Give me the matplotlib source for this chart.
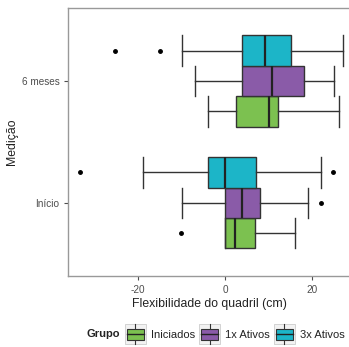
import matplotlib
matplotlib.use("Agg")
import matplotlib.pyplot as plt
from matplotlib.legend_handler import HandlerBase
from matplotlib.patches import Rectangle
from matplotlib.lines import Line2D

plt.rcParams['font.family'] = ['Liberation Sans', 'DejaVu Sans']

medicoes = ["Início", "6 meses"]
grupos = ["Iniciados", "1x Ativos", "3x Ativos"]
cores = ["#7cc150", "#8a5ba8", "#1cb5c8"]

# (whislo, q1, med, q3, whishi) per medicao, per grupo
stats_inicio = [
    [0.0, 0.0, 2.2, 6.8, 16.0],
    [-9.8, 0.0, 3.8, 8.0, 19.1],
    [-18.8, -3.9, 0.0, 7.2, 22.1],
]
stats_6meses = [
    [-3.9, 2.6, 10.0, 12.2, 26.2],
    [-6.8, 3.9, 10.8, 18.0, 25.0],
    [-9.8, 3.9, 9.1, 15.1, 27.0],
]
outliers_inicio = [[-10.1], [22.0], [-33.2, 24.8]]
outliers_6meses = [[], [], [-25.2, -14.9]]

fig = plt.figure(figsize=(3.49, 3.47), dpi=100)
ax = fig.add_axes([0.196, 0.205, 0.81, 0.772])

offsets = [-0.25, 0.0, 0.25]
all_stats = [stats_inicio, stats_6meses]
all_out = [outliers_inicio, outliers_6meses]
for i in range(2):
    for g in range(3):
        s = all_stats[i][g]
        st = dict(whislo=s[0], q1=s[1], med=s[2], q3=s[3], whishi=s[4],
                  fliers=all_out[i][g])
        ax.bxp([st], positions=[i + 1 + offsets[g]], widths=0.25, vert=False,
               patch_artist=True, showcaps=True,
               boxprops=dict(facecolor=cores[g], edgecolor="#333333", linewidth=1),
               medianprops=dict(color="#222222", linewidth=1.6),
               whiskerprops=dict(color="#333333", linewidth=1),
               capprops=dict(color="#333333", linewidth=1),
               flierprops=dict(marker="o", markersize=2.5, markerfacecolor="black",
                               markeredgecolor="black"),
               capwidths=0.25)

ax.set_xlim(-35.9, 28.9)
ax.set_ylim(0.4, 2.6)
ax.set_yticks([1, 2])
ax.set_yticklabels(medicoes)
ax.set_xticks([-20, 0, 20])
ax.set_xticklabels(["-20", "0", "20"])
ax.tick_params(axis="both", labelsize=7.2, colors="#4d4d4d", length=3, width=0.8)
for sp in ax.spines.values():
    sp.set_color("#999999")
    sp.set_linewidth(1)
ax.set_xlabel("Flexibilidade do quadril (cm)", fontsize=8.8, color="#222222", labelpad=2)
ax.set_ylabel("Medição", fontsize=8.8, color="#222222")
ax.yaxis.set_label_coords(-0.179, 0.5)


class BoxKey(HandlerBase):
    def __init__(self, color):
        super().__init__()
        self.color = color

    def create_artists(self, legend, orig_handle, xdescent, ydescent, width, height,
                       fontsize, trans):
        x0 = -xdescent
        y0 = -ydescent
        bg = Rectangle((x0, y0 - 1), width, height + 2,
                       facecolor="#f2f2f2", edgecolor="#cccccc", lw=0.6, transform=trans)
        cx = x0 + width / 2
        ylo = y0 + height * 0.2
        yhi = y0 + height * 0.8
        box = Rectangle((x0 + 1.5, ylo), width - 3, yhi - ylo,
                        facecolor=self.color, edgecolor="#333333", lw=0.8, transform=trans)
        med = Line2D([x0 + 1.5, x0 + width - 1.5], [(ylo + yhi) / 2] * 2,
                     color="#222222", lw=1, transform=trans)
        w1 = Line2D([cx, cx], [y0 - 1, ylo], color="#333333", lw=0.8, transform=trans)
        w2 = Line2D([cx, cx], [yhi, y0 + height + 1], color="#333333", lw=0.8,
                    transform=trans)
        return [bg, w1, w2, box, med]


handles = [Rectangle((0, 0), 1, 1, label=g) for g in grupos]
hmap = {h: BoxKey(c) for h, c in zip(handles, cores)}
leg = fig.legend(handles=handles, labels=grupos, handler_map=hmap, loc="center left",
                 bbox_to_anchor=(0.358, 0.037), ncol=3, frameon=False, fontsize=8,
                 handlelength=1.9, handleheight=2.1, handletextpad=0.45,
                 columnspacing=0.35, borderpad=0, borderaxespad=0)
for t in leg.get_texts():
    t.set_color("#222222")
fig.text(0.344, 0.037, "Grupo", fontsize=8, fontweight="bold", color="#222222",
         ha="right", va="center")

fig.savefig("out.png", dpi=100)
